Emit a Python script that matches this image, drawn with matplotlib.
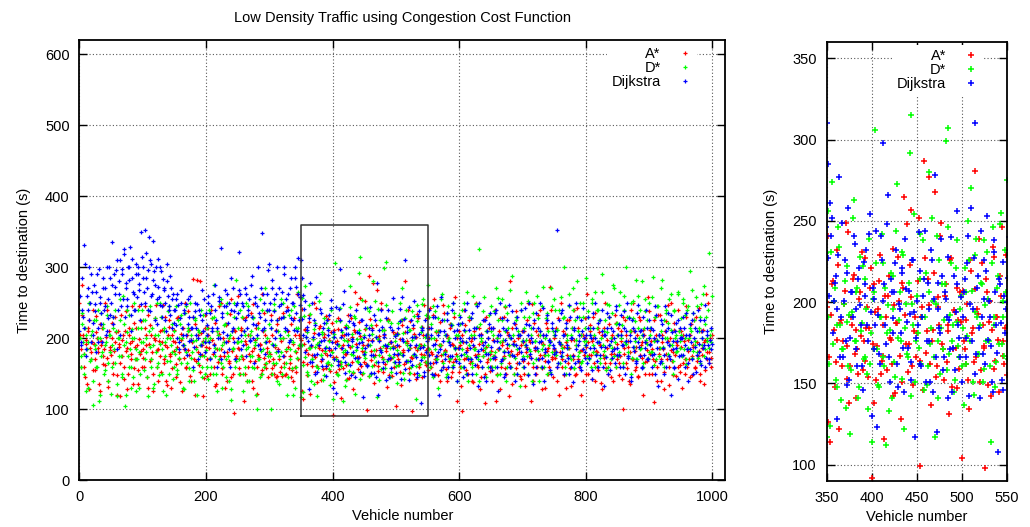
import numpy as np
import matplotlib as mpl
import matplotlib.pyplot as plt

mpl.rcParams["font.family"] = ["Liberation Sans", "DejaVu Sans"]
mpl.rcParams["font.size"] = 10.5

# vehicle numbers: first the even ones, then the odd ones
vehicle = np.concatenate([np.arange(0, 1000, 2), np.arange(1, 1000, 2)])

# time to destination (s) (same vehicle order as above)
astar = np.array([
    # even vehicles
    250, 185, 275, 205, 160, 192, 135, 210, 226, 180, 195, 155, 170, 231, 200, 186, 125, 190, 214, 175, 162, 201, 240, 131, 184,
    176, 222, 150, 195, 208, 120, 188, 165, 233, 198, 142, 210, 182, 128, 205, 193, 170, 245, 158, 188, 215, 136, 199, 178, 224,
    185, 160, 245, 205, 130, 192, 218, 170, 150, 200, 228, 183, 140, 196, 175, 212, 247, 165, 190, 134, 205, 225, 178, 158, 196,
    212, 145, 188, 230, 170, 198, 125, 215, 185, 160, 205, 238, 176, 140, 194, 283, 220, 168, 282, 180, 152, 207, 190, 118, 232,
    188, 146, 215, 172, 240, 198, 160, 222, 135, 185, 206, 175, 250, 150, 195, 130, 218, 180, 165, 234, 145, 200, 94, 210, 172,
    260, 185, 150, 215, 170, 112, 196, 230, 160, 178, 205, 140, 248, 186, 168, 122, 222, 174, 192, 155, 210, 236, 164, 180, 145,
    196, 232, 158, 170, 150, 212, 146, 185, 228, 160, 147, 200, 175, 150, 244, 188, 165, 220, 155, 140, 205, 180, 262, 170, 258,
    197, 126, 114, 211, 183, 163, 232, 122, 189, 176, 207, 153, 243, 161, 186, 217, 141, 171, 202, 179, 158, 227, 184, 154, 209,
    92, 138, 194, 173, 213, 156, 167, 116, 191, 204, 178, 162, 233, 144, 187, 201, 128, 212, 265, 174, 157, 223, 257, 149, 191,
    181, 252, 99, 197, 287, 169, 214, 277, 137, 183, 268, 161, 203, 241, 174, 152, 211, 186, 131, 227, 171, 194, 147, 189, 206,
    104, 176, 162, 199, 134, 219, 184, 281, 166, 193, 151, 224, 173, 98, 206, 188, 142, 234, 159, 191, 177, 216, 246, 167, 184,
    155, 200, 242, 180, 165, 255, 170, 208, 148, 190, 223, 176, 160, 236, 184, 140, 200, 168, 215, 152, 190, 230, 170, 112, 186,
    210, 160, 98, 195, 240, 172, 183, 150, 226, 168, 200, 138, 188, 250, 162, 177, 215, 145, 195, 183, 108, 230, 167, 200, 154,
    182, 140, 215, 170, 112, 200, 185, 228, 160, 190, 175, 244, 150, 208, 165, 280, 182, 135, 196, 220, 158, 177, 205, 147, 190,
    168, 210, 132, 188, 250, 175, 195, 112, 160, 222, 183, 150, 204, 170, 240, 158, 192, 176, 130, 215, 186, 160, 272, 174, 145,
    200, 182, 160, 228, 120, 190, 170, 210, 148, 195, 226, 165, 186, 132, 215, 176, 198, 150, 243, 170, 160, 205, 184, 140, 200,
    188, 262, 150, 210, 176, 196, 230, 140, 182, 160, 215, 190, 137, 205, 172, 250, 158, 186, 220, 165, 145, 200, 178, 232, 160,
    192, 148, 175, 210, 100, 186, 225, 165, 196, 140, 180, 240, 170, 210, 155, 188, 146, 230, 176, 194, 120, 205, 166, 183, 258,
    150, 212, 185, 170, 110, 198, 160, 232, 178, 140, 205, 185, 152, 224, 170, 196, 134, 250, 168, 180, 212, 146, 190, 240, 162,
    187, 130, 205, 170, 245, 160, 198, 145, 220, 175, 190, 158, 230, 168, 182, 140, 210, 176, 195, 155, 262, 180, 165, 200, 172,
    # odd vehicles
    205, 160, 232, 178, 145, 198, 215, 128, 186, 170, 240, 192, 155, 208, 180, 135, 220, 196, 163, 185, 250, 172, 140, 210, 188,
    200, 165, 182, 230, 148, 210, 192, 118, 175, 205, 160, 238, 186, 150, 215, 178, 196, 135, 222, 170, 190, 155, 245, 182, 160,
    172, 215, 190, 145, 232, 168, 205, 180, 125, 198, 246, 160, 185, 210, 152, 194, 170, 230, 140, 188, 216, 175, 130, 204, 182,
    195, 164, 228, 180, 138, 206, 190, 172, 250, 158, 184, 212, 146, 198, 230, 170, 120, 188, 205, 162, 280, 176, 196, 144, 215,
    170, 205, 186, 150, 228, 178, 192, 132, 210, 166, 245, 185, 158, 200, 175, 220, 140, 196, 168, 255, 182, 150, 212, 175, 195,
    186, 158, 212, 175, 228, 150, 192, 140, 205, 168, 236, 182, 130, 198, 214, 160, 176, 190, 150, 262, 172, 205, 158, 186, 168,
    178, 150, 205, 162, 188, 145, 220, 170, 152, 196, 235, 165, 148, 182, 210, 158, 175, 145, 192, 228, 160, 152, 186, 205, 200,
    241, 166, 192, 213, 148, 177, 223, 187, 161, 199, 249, 173, 138, 191, 214, 168, 183, 156, 206, 231, 176, 164, 197, 184, 221,
    174, 211, 152, 196, 229, 164, 186, 204, 158, 216, 177, 142, 198, 187, 228, 167, 151, 209, 192, 248, 174, 203, 161, 182, 166,
    213, 164, 191, 146, 227, 182, 198, 162, 176, 218, 154, 197, 186, 249, 171, 204, 163, 182, 226, 148, 195, 172, 209, 159, 188,
    207, 171, 189, 152, 226, 181, 163, 208, 196, 239, 158, 186, 172, 214, 149, 201, 183, 228, 164, 191, 145, 204, 176, 162, 229,
    186, 215, 160, 178, 232, 150, 198, 175, 210, 140, 190, 168, 246, 182, 156, 205, 175, 220, 145, 192, 166, 258, 178, 200, 152,
    190, 132, 205, 170, 218, 155, 186, 230, 165, 196, 140, 210, 176, 248, 160, 192, 128, 206, 175, 225, 150, 188, 170, 215, 178,
    160, 198, 175, 240, 150, 185, 210, 128, 195, 170, 230, 158, 186, 205, 118, 176, 215, 192, 150, 238, 165, 200, 180, 142, 210,
    195, 150, 180, 225, 165, 198, 172, 248, 140, 188, 210, 160, 232, 176, 195, 128, 205, 168, 222, 182, 150, 196, 240, 170, 185,
    172, 215, 140, 195, 180, 250, 160, 188, 206, 130, 176, 225, 158, 198, 170, 240, 148, 190, 215, 166, 182, 120, 205, 176, 228,
    150, 195, 176, 218, 142, 200, 165, 235, 180, 155, 208, 190, 128, 176, 214, 165, 198, 150, 230, 178, 205, 140, 186, 222, 170,
    215, 165, 196, 142, 230, 178, 205, 158, 188, 135, 210, 170, 250, 182, 160, 205, 145, 226, 190, 172, 212, 150, 195, 168, 238,
    178, 196, 150, 225, 168, 205, 140, 186, 232, 170, 195, 128, 210, 178, 246, 160, 200, 184, 148, 222, 176, 195, 160, 210, 152,
    210, 165, 196, 150, 230, 182, 170, 205, 148, 188, 226, 160, 195, 175, 242, 150, 186, 212, 135, 198, 170, 250, 180, 160, 205,
])

dstar = np.array([
    # even vehicles
    240, 175, 220, 195, 150, 205, 185, 130, 250, 170, 210, 106, 190, 225, 160, 200, 120, 235, 180, 215, 155, 195, 245, 140, 205,
    122, 190, 230, 165, 210, 118, 200, 255, 175, 145, 220, 105, 195, 240, 160, 185, 130, 213, 200, 170, 125, 240, 180, 150, 215,
    195, 155, 225, 180, 118, 210, 245, 170, 190, 135, 228, 160, 205, 148, 250, 185, 125, 215, 195, 168, 238, 150, 200, 180, 142,
    210, 185, 150, 225, 172, 232, 200, 130, 190, 245, 165, 215, 140, 205, 180, 155, 228, 198, 120, 212, 175, 240, 160, 195, 150,
    183, 215, 142, 200, 160, 228, 275, 175, 150, 210, 185, 248, 165, 130, 195, 220, 170, 250, 140, 205, 113, 185, 230, 160, 282,
    195, 150, 240, 175, 125, 210, 160, 250, 188, 140, 205, 175, 230, 158, 195, 100, 215, 170, 145, 240, 185, 160, 270, 200, 175,
    220, 100, 192, 165, 248, 180, 140, 210, 175, 255, 150, 200, 230, 165, 120, 205, 185, 240, 158, 195, 130, 215, 172, 265, 190,
    117, 256, 124, 274, 201, 152, 186, 234, 140, 171, 213, 188, 161, 119, 194, 263, 176, 209, 148, 182, 222, 166, 196, 134, 162,
    114, 206, 306, 171, 148, 191, 224, 161, 112, 198, 183, 141, 216, 154, 273, 189, 176, 231, 122, 199, 166, 292, 315, 186, 151,
    204, 172, 242, 191, 146, 218, 161, 280, 184, 201, 117, 241, 176, 156, 211, 189, 299, 307, 168, 224, 186, 152, 238, 173, 196,
    161, 137, 206, 179, 226, 270, 151, 194, 239, 168, 186, 211, 159, 198, 231, 176, 114, 246, 191, 163, 216, 248, 174, 201, 232,
    275, 185, 160, 220, 145, 200, 238, 170, 130, 210, 190, 255, 165, 226, 180, 150, 245, 200, 172, 218, 162, 235, 185, 140, 205,
    170, 220, 185, 160, 250, 195, 175, 140, 230, 205, 165, 260, 185, 150, 216, 175, 325, 200, 160, 238, 180, 145, 210, 190, 170,
    245, 160, 205, 180, 270, 148, 225, 195, 165, 255, 182, 210, 140, 235, 176, 200, 160, 288, 190, 172, 225, 150, 205, 132, 240,
    175, 215, 190, 265, 150, 230, 182, 205, 165, 250, 196, 170, 228, 140, 210, 185, 272, 160, 200, 236, 176, 190, 152, 245, 210,
    255, 180, 212, 165, 240, 192, 175, 228, 300, 150, 205, 186, 262, 170, 215, 240, 158, 198, 280, 175, 230, 205, 168, 250, 190,
    285, 175, 230, 205, 160, 250, 190, 265, 178, 215, 240, 165, 200, 290, 182, 225, 155, 208, 246, 190, 170, 235, 270, 195, 160,
    222, 180, 265, 205, 160, 240, 195, 300, 175, 230, 210, 150, 252, 188, 224, 170, 260, 200, 185, 280, 165, 215, 238, 192, 172,
    250, 205, 180, 286, 162, 230, 198, 245, 175, 210, 282, 188, 160, 235, 200, 222, 175, 262, 190, 150, 238, 205, 182, 265, 196,
    228, 175, 250, 200, 163, 240, 186, 295, 210, 172, 236, 190, 258, 180, 215, 165, 248, 200, 274, 185, 230, 196, 320, 205, 195,
    # odd vehicles
    200, 160, 235, 178, 215, 125, 195, 250, 168, 205, 140, 225, 185, 160, 240, 112, 200, 175, 220, 150, 190, 232, 165, 205, 180,
    160, 214, 185, 240, 135, 200, 175, 225, 150, 260, 190, 120, 208, 175, 232, 160, 200, 145, 250, 185, 170, 215, 130, 195, 240,
    226, 170, 200, 145, 240, 188, 160, 215, 130, 205, 180, 250, 165, 192, 230, 150, 210, 175, 120, 200, 245, 168, 190, 220, 160,
    178, 245, 155, 200, 220, 165, 190, 128, 235, 180, 210, 158, 250, 172, 196, 140, 226, 185, 165, 208, 190, 145, 232, 175, 200,
    160, 196, 240, 172, 210, 150, 230, 186, 125, 205, 170, 255, 190, 160, 218, 145, 235, 175, 200, 128, 210, 186, 250, 168, 195,
    215, 170, 196, 230, 150, 205, 185, 140, 245, 175, 210, 160, 228, 190, 120, 200, 170, 255, 182, 150, 212, 195, 165, 238, 180,
    175, 215, 150, 240, 190, 165, 226, 135, 200, 180, 250, 160, 210, 185, 145, 232, 170, 198, 120, 245, 182, 160, 215, 190, 230,
    191, 162, 231, 174, 209, 148, 246, 186, 171, 199, 135, 222, 192, 158, 252, 176, 206, 141, 228, 187, 165, 214, 156, 239, 181,
    202, 171, 224, 149, 191, 242, 166, 209, 181, 133, 218, 196, 163, 244, 178, 206, 153, 229, 184, 168, 212, 142, 199, 254, 176,
    181, 214, 162, 238, 191, 149, 206, 174, 252, 166, 199, 141, 226, 184, 171, 211, 158, 246, 192, 176, 145, 221, 188, 166, 204,
    184, 221, 162, 250, 176, 207, 143, 229, 191, 168, 212, 151, 238, 176, 202, 161, 224, 186, 148, 209, 174, 255, 191, 167, 206,
    165, 230, 200, 150, 245, 185, 210, 170, 228, 190, 155, 262, 178, 205, 145, 236, 196, 170, 220, 160, 250, 188, 205, 175, 232,
    195, 160, 240, 178, 210, 150, 265, 190, 172, 228, 160, 205, 185, 248, 170, 140, 220, 196, 175, 258, 186, 210, 160, 232, 180,
    210, 175, 238, 160, 200, 256, 185, 150, 225, 198, 172, 245, 160, 215, 190, 268, 176, 205, 150, 230, 185, 210, 165, 250, 196,
    160, 230, 198, 175, 252, 185, 215, 140, 236, 196, 170, 260, 182, 205, 160, 245, 190, 176, 228, 150, 210, 196, 270, 180, 205,
    240, 176, 212, 195, 165, 258, 186, 230, 160, 215, 198, 245, 175, 205, 270, 158, 225, 190, 210, 180, 250, 165, 230, 196, 215,
    196, 238, 170, 215, 255, 180, 205, 160, 240, 195, 226, 172, 265, 190, 210, 175, 248, 160, 230, 200, 186, 275, 175, 220, 205,
    175, 246, 200, 218, 165, 260, 192, 230, 180, 210, 250, 172, 228, 196, 282, 170, 215, 240, 186, 205, 160, 255, 198, 226, 180,
    215, 180, 258, 196, 230, 170, 245, 205, 186, 270, 165, 225, 200, 240, 178, 255, 190, 212, 168, 240, 200, 180, 262, 210, 186,
    205, 255, 185, 232, 170, 245, 200, 215, 268, 182, 225, 196, 245, 172, 210, 230, 190, 262, 175, 220, 200, 240, 186, 212, 260,
])

dijkstra = np.array([
    # even vehicles
    210, 190, 285, 230, 331, 175, 260, 240, 300, 195, 265, 222, 248, 180, 290, 215, 258, 235, 195, 270, 245, 205, 300, 228, 285,
    250, 335, 220, 272, 296, 185, 262, 310, 245, 290, 318, 230, 278, 255, 300, 328, 210, 285, 262, 240, 305, 290, 268, 226, 349,
    300, 265, 352, 285, 240, 343, 310, 260, 337, 295, 275, 220, 312, 258, 300, 245, 284, 270, 225, 305, 260, 240, 288, 215, 262,
    222, 255, 200, 246, 185, 268, 215, 190, 240, 205, 176, 255, 230, 198, 214, 160, 238, 205, 248, 170, 232, 190, 268, 210, 180,
    236, 205, 260, 170, 245, 215, 190, 275, 225, 160, 258, 200, 327, 236, 180, 268, 245, 205, 250, 160, 285, 215, 238, 170, 246,
    200, 322, 262, 185, 245, 210, 270, 175, 232, 255, 198, 288, 220, 165, 250, 205, 300, 236, 185, 348, 262, 215, 178, 240, 296,
    305, 225, 270, 190, 255, 210, 300, 182, 245, 228, 265, 175, 300, 238, 212, 262, 198, 285, 250, 225, 300, 272, 210, 313, 258,
    310, 285, 261, 252, 201, 216, 128, 277, 191, 166, 226, 149, 258, 178, 206, 241, 196, 161, 221, 186, 146, 211, 232, 176, 254,
    130, 202, 186, 123, 168, 241, 298, 211, 174, 266, 151, 206, 190, 224, 162, 199, 181, 218, 145, 208, 172, 193, 152, 226, 117,
    201, 243, 162, 191, 214, 151, 212, 176, 232, 145, 278, 120, 196, 181, 216, 166, 202, 141, 189, 240, 172, 158, 211, 186, 166,
    151, 206, 178, 224, 142, 258, 196, 310, 168, 216, 141, 191, 226, 162, 253, 201, 173, 145, 238, 186, 108, 211, 152, 225, 181,
    200, 240, 165, 215, 190, 148, 230, 175, 205, 120, 185, 258, 160, 210, 178, 226, 145, 195, 175, 240, 160, 210, 186, 140, 220,
    165, 230, 196, 145, 212, 180, 250, 170, 200, 228, 150, 190, 215, 174, 245, 132, 205, 185, 160, 225, 195, 140, 210, 178, 236,
    188, 155, 215, 174, 240, 196, 125, 205, 168, 228, 180, 150, 212, 192, 246, 160, 200, 176, 222, 140, 190, 230, 165, 205, 180,
    210, 170, 242, 190, 148, 218, 178, 200, 135, 226, 186, 160, 215, 195, 250, 172, 205, 140, 185, 232, 166, 198, 155, 222, 190,
    178, 210, 352, 165, 195, 236, 180, 205, 150, 222, 190, 172, 246, 160, 200, 138, 215, 185, 230, 168, 196, 155, 210, 242, 180,
    205, 165, 230, 186, 200, 142, 215, 250, 176, 195, 160, 225, 188, 210, 132, 205, 174, 236, 190, 155, 215, 182, 200, 165, 240,
    186, 220, 160, 205, 190, 238, 150, 210, 175, 228, 196, 140, 215, 182, 200, 165, 246, 188, 210, 158, 230, 176, 195, 215, 170,
    225, 190, 160, 212, 178, 245, 196, 132, 205, 168, 220, 186, 150, 210, 195, 236, 175, 120, 208, 185, 160, 222, 196, 142, 215,
    176, 200, 230, 160, 205, 185, 140, 220, 195, 170, 235, 188, 152, 210, 180, 225, 162, 200, 190, 246, 172, 210, 165, 198, 185,
    # odd vehicles
    260, 195, 240, 215, 305, 185, 270, 225, 250, 290, 205, 275, 238, 265, 195, 298, 250, 220, 285, 240, 270, 210, 255, 300, 232,
    275, 230, 290, 262, 310, 240, 280, 205, 298, 255, 325, 270, 245, 300, 282, 232, 312, 265, 240, 290, 258, 300, 276, 248, 315,
    285, 250, 320, 270, 296, 238, 305, 262, 282, 225, 300, 255, 272, 246, 295, 230, 268, 250, 210, 280, 245, 232, 270, 255, 240,
    240, 218, 262, 195, 228, 250, 205, 236, 185, 248, 220, 196, 260, 214, 230, 188, 250, 215, 200, 240, 178, 226, 210, 255, 195,
    218, 250, 195, 235, 210, 262, 180, 240, 215, 200, 252, 170, 230, 208, 245, 195, 262, 222, 185, 240, 210, 270, 195, 228, 250,
    235, 268, 205, 250, 190, 225, 262, 215, 240, 196, 275, 230, 200, 258, 218, 245, 190, 230, 270, 212, 250, 225, 195, 262, 240,
    250, 215, 282, 238, 200, 262, 225, 270, 205, 248, 230, 290, 215, 255, 240, 195, 270, 228, 250, 212, 285, 235, 262, 225, 246,
    227, 204, 241, 181, 212, 196, 229, 166, 249, 201, 176, 218, 152, 206, 191, 236, 171, 214, 198, 161, 225, 204, 186, 242, 194,
    209, 171, 244, 192, 162, 226, 201, 186, 248, 166, 214, 181, 206, 232, 148, 196, 221, 172, 239, 188, 207, 163, 226, 194, 178,
    186, 219, 161, 204, 244, 176, 196, 151, 226, 202, 166, 212, 184, 239, 158, 206, 191, 228, 171, 145, 216, 194, 256, 178, 203,
    191, 214, 166, 241, 199, 176, 227, 156, 209, 184, 244, 168, 202, 219, 177, 191, 151, 231, 206, 169, 214, 187, 146, 204, 196,
    215, 176, 205, 150, 230, 192, 166, 245, 180, 210, 155, 226, 196, 170, 205, 235, 160, 190, 218, 175, 250, 200, 168, 212, 186,
    200, 176, 222, 160, 240, 195, 150, 212, 186, 170, 235, 200, 162, 215, 182, 250, 168, 205, 190, 145, 226, 178, 200, 220, 160,
    214, 172, 196, 236, 160, 205, 186, 250, 170, 215, 145, 198, 226, 180, 205, 160, 238, 192, 175, 215, 150, 205, 186, 240, 170,
    196, 160, 220, 185, 205, 250, 172, 195, 215, 150, 236, 186, 170, 210, 196, 160, 242, 180, 205, 226, 168, 195, 150, 215, 186,
    205, 180, 160, 226, 192, 175, 240, 205, 168, 215, 186, 150, 230, 200, 175, 212, 165, 250, 190, 205, 160, 226, 185, 200, 172,
    190, 215, 172, 205, 155, 236, 186, 200, 168, 222, 195, 176, 240, 160, 205, 188, 215, 150, 230, 196, 172, 210, 185, 245, 176,
    205, 176, 232, 190, 160, 215, 196, 250, 172, 205, 145, 226, 188, 210, 168, 236, 195, 175, 212, 160, 205, 186, 240, 170, 200,
    192, 215, 176, 200, 150, 232, 186, 205, 165, 225, 200, 176, 245, 160, 215, 190, 170, 232, 196, 158, 210, 186, 226, 175, 200,
    200, 176, 215, 190, 235, 165, 205, 185, 226, 150, 200, 215, 176, 240, 192, 168, 210, 186, 225, 160, 205, 190, 170, 215, 192,
])

names = ["A*", "D*", "Dijkstra"]
colors = ["#ff0000", "#00ff00", "#0000ff"]
series = [astar, dstar, dijkstra]


def style(ax):
    ax.tick_params(direction="in", top=True, right=True, length=6, width=1, pad=7)
    ax.grid(True, color="0.35", linestyle=(0, (1, 2)), linewidth=0.8)
    ax.set_axisbelow(True)
    for s in ax.spines.values():
        s.set_linewidth(1.3)


fig = plt.figure(figsize=(10.3, 5.27), dpi=100)
ax = fig.add_axes([0.077, 0.089, 0.627, 0.835])
ins = fig.add_axes([0.8026, 0.0873, 0.1751, 0.8327])

for y, name, c in zip(series, names, colors):
    ax.plot(vehicle, y, "+", color=c, ms=3, mew=0.9, label=name)
    ins.plot(vehicle, y, "+", color=c, ms=5, mew=1.1, label=name)

# zoom window
ax.plot([350, 550, 550, 350, 350], [90, 90, 360, 360, 90], "-", color="0.2", lw=1.1)

ax.set_xlim(0, 1020)
ax.set_ylim(0, 620)
ax.set_xticks(np.arange(0, 1001, 200))
ax.set_yticks(np.arange(0, 601, 100))
style(ax)
ax.set_title("Low Density Traffic using Congestion Cost Function", fontsize=10.5, pad=13)
ax.set_xlabel("Vehicle number", labelpad=4)
ax.set_ylabel("Time to destination (s)", labelpad=10)
ax.legend(loc="upper right", bbox_to_anchor=(0.968, 1.01), markerfirst=False,
          frameon=True, framealpha=1, edgecolor="none", fancybox=False,
          handlelength=1.0, handletextpad=1.2, labelspacing=0.0, borderpad=0.3)

ins.set_xlim(350, 550)
ins.set_ylim(90, 360)
ins.set_xticks(np.arange(350, 551, 50))
ins.set_yticks(np.arange(100, 351, 50))
style(ins)
ins.set_xlabel("Vehicle number", labelpad=4)
ins.set_ylabel("Time to destination (s)", labelpad=10)
ins.legend(loc="upper right", bbox_to_anchor=(0.905, 1.01), markerfirst=False,
           frameon=True, framealpha=1, edgecolor="none", fancybox=False,
           handlelength=1.0, handletextpad=1.2, labelspacing=0.0, borderpad=0.3)

fig.savefig("out.png", dpi=100)
